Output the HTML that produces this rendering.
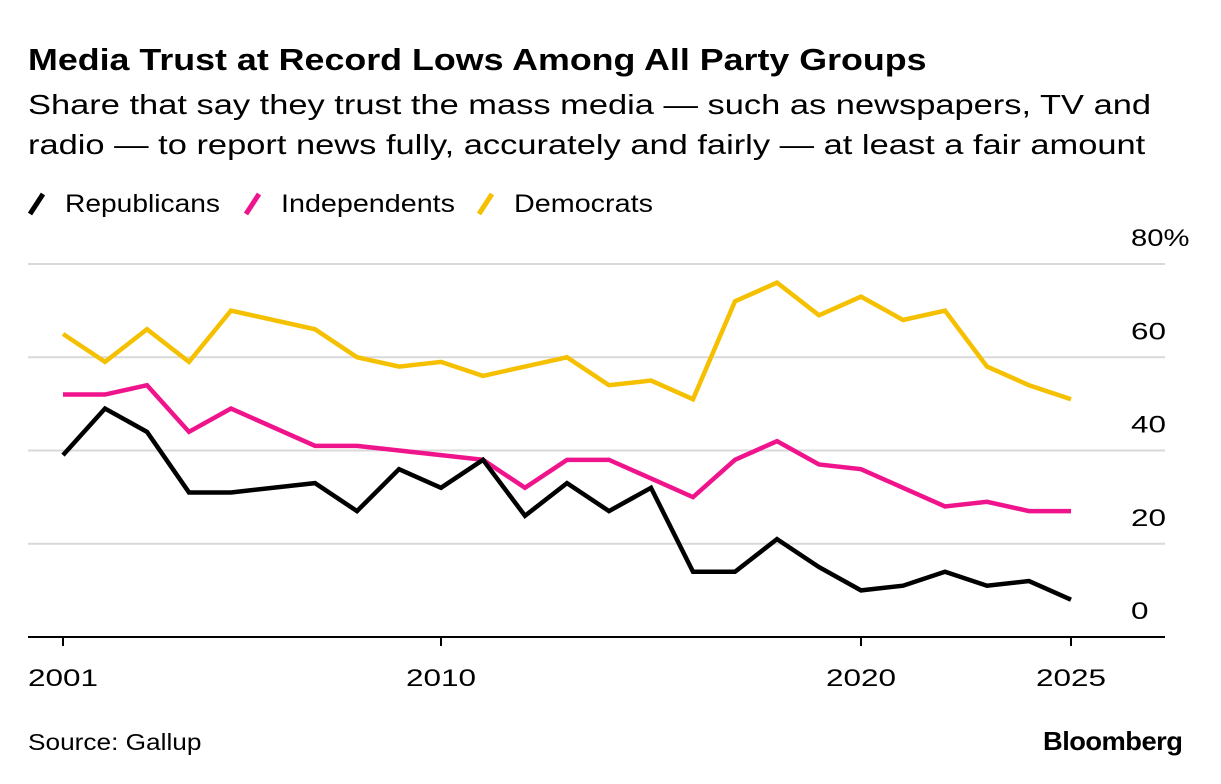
<!DOCTYPE html>
<html><head><meta charset="utf-8"><style>
body{margin:0;background:#fff;font-family:"Liberation Sans",sans-serif;}
#wrap{position:relative;width:1221px;height:784px;overflow:hidden;}
.t{position:absolute;white-space:nowrap;color:#000;transform-origin:0 0;}
</style></head><body>
<div id="wrap">
<div class="t" style="left:28px;top:42px;font-size:31px;font-weight:bold;transform:scaleX(1.155)">Media Trust at Record Lows Among All Party Groups</div>
<div class="t" style="left:28px;top:85px;font-size:28px;line-height:40px;transform:scaleX(1.23)">Share that say they trust the mass media — such as newspapers, TV and<br>radio — to report news fully, accurately and fairly — at least a fair amount</div>
<svg id="svg" width="1221" height="784" style="position:absolute;left:0;top:0"></svg>
<div class="t" style="left:28px;top:729px;font-size:23px;transform:scaleX(1.14)">Source: Gallup</div>
<div class="t" style="left:1043px;top:726px;font-size:26px;font-weight:bold;letter-spacing:-0.5px;transform:scaleX(1.05)">Bloomberg</div>
</div>
<script>
const years=[2001,2002,2003,2004,2005,2007,2008,2009,2010,2011,2012,2013,2014,2015,2016,2017,2018,2019,2020,2021,2022,2023,2024,2025];
const republicans=[39,49,44,31,31,33,27,36,32,38,26,33,27,32,14,14,21,15,10,11,14,11,12,8];
const independents=[52,52,54,44,49,41,41,40,39,38,32,38,38,34,30,38,42,37,36,32,28,29,27,27];
const democrats=[65,59,66,59,70,66,60,58,59,56,58,60,54,55,51,72,76,69,73,68,70,58,54,51];
const yTicks=[0,20,40,60,80];
const xTicks=[2001,2010,2020,2025];
const NS="http://www.w3.org/2000/svg";
const svg=document.getElementById('svg');
const X=y=>63+(y-2001)*(1071-63)/24;
const Y=v=>637-v*(637-264)/80;
function mk(t,a){const e=document.createElementNS(NS,t);for(const k in a)e.setAttribute(k,a[k]);svg.appendChild(e);return e;}
yTicks.forEach(v=>{
  if(v>0){const l=mk('line',{x1:28,x2:1165,y1:Y(v),y2:Y(v),stroke:'#d9d9d9','stroke-width':2});
  
  }
  const s=v===80?'80%':String(v);
  const t=mk('text',{x:1131,y:Y(v)-18,'font-size':24,'font-family':'Liberation Sans, sans-serif',textLength:s.length*17.5+(v===80?6:0),lengthAdjust:'spacingAndGlyphs'});
  t.textContent=s;
  
  
});
const ax=mk('line',{x1:28,x2:1165,y1:637,y2:637,stroke:'#000','stroke-width':2});


xTicks.forEach(y=>{
  const l=mk('line',{x1:X(y),x2:X(y),y1:637,y2:646,stroke:'#000','stroke-width':2});
  
  
  const t=mk('text',{x:X(y)-35,y:686,'font-size':24,'font-family':'Liberation Sans, sans-serif',textLength:70,lengthAdjust:'spacingAndGlyphs'});
  t.textContent=String(y);
  
  
});
const series=[['democrats',democrats,'#f5c000'],['independents',independents,'#f0148c'],['republicans',republicans,'#000']];
series.forEach(([n,d,c])=>{
  const p=mk('polyline',{points:d.map((v,i)=>X(years[i])+','+Y(v)).join(' '),fill:'none',stroke:c,'stroke-width':4.5,'stroke-linejoin':'miter'});
  
  
});
const legend=[['Republicans','#000',30,155],['Independents','#f0148c',246,174],['Democrats','#f5c000',479,139]];
legend.forEach(([n,c,x,w])=>{
  const l=mk('line',{x1:x,x2:x+13,y1:214,y2:194,stroke:c,'stroke-width':5});
  
  
  const t=mk('text',{x:x+35,y:212,'font-size':25,'font-family':'Liberation Sans, sans-serif',textLength:w,lengthAdjust:'spacingAndGlyphs'});
  t.textContent=n;
  
  
});
</script>
</body></html>
